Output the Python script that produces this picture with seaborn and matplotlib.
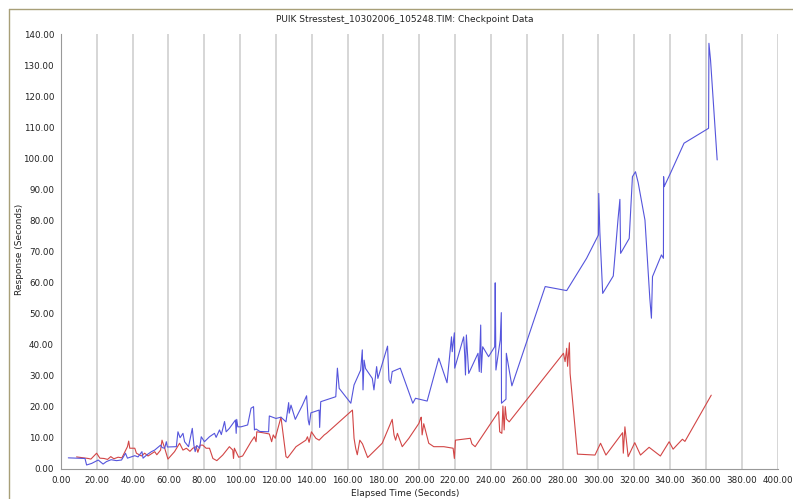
import matplotlib
matplotlib.use("Agg")
import matplotlib.pyplot as plt
from matplotlib.lines import Line2D
import pandas as pd
import seaborn as sns

# Checkpoint data
blue_x = [4.1, 13.4, 14.3, 17.1, 20.8, 23.5, 25.4, 28, 31, 33.8, 36, 37.1, 41.2, 43, 45.2, 45.8, 48, 50.5,
          52.3, 55.6, 56.5, 57.9, 58.8, 59.4, 64.4, 65.3, 66.5, 68.1, 69, 71.2, 73.3, 74.2, 74.9, 75.8, 77.4,
          78.3, 80.1, 82.9, 85.7, 86.6, 88.5, 89.5, 91.3, 92.2, 94, 97.4, 97.8, 98.1, 98.7, 100.5, 104.2,
          106.1, 107.5, 108, 108.9, 111, 115.9, 116.3, 120, 122.8, 125.6, 127.1, 127.4, 128.4, 130.8, 134.8,
          137.1, 138, 138.6, 139.5, 144.1, 144.4, 145, 153.4, 154.3, 155.3, 159, 161.8, 163.6, 167.3, 168.2,
          168.6, 169.2, 170, 173.8, 174.7, 176.2, 176.9, 182.3, 183.1, 184, 184.9, 189.4, 196.4, 197.9, 204.4,
          210.9, 215.5, 218, 218.4, 219.6, 219.8, 224.8, 225.4, 225.8, 226.3, 227.6, 232.8, 233.5, 234.3,
          234.6, 235.4, 238.7, 242.1, 242.4, 242.8, 245.2, 245.8, 245.9, 248.4, 248.6, 251.7, 270.3, 282.3,
          293.4, 300, 300.2, 300.8, 302.4, 308.3, 311, 312, 312.4, 317.2, 319, 320.7, 322.2, 326, 328.7,
          329.6, 330.2, 335.2, 336.3, 336.4, 336.7, 340.2, 347.8, 361.5, 361.7, 362.6, 366.3]
blue_y = [3.5, 3.3, 1.2, 1.7, 2.8, 1.5, 2.3, 2.9, 2.6, 2.8, 5, 3.4, 4.2, 3.8, 5.5, 3.4, 4.5, 5.5,
          6, 7.6, 6.8, 6.6, 8.7, 7, 7.1, 11.9, 10, 11.4, 8.7, 7.1, 13, 7.6, 5.5, 7.5, 6.6,
          10.3, 8.7, 10.3, 11.4, 10.1, 12.5, 11, 15.2, 11.9, 13, 15.7, 11.4, 15.9, 13.5, 13.5, 14.1,
          19.5, 20, 12.5, 12.8, 12, 11.9, 17, 16.2, 16.6, 15.1, 21.3, 17.9, 20.5, 15.9, 20.5,
          23.5, 15.7, 14.1, 18, 18.9, 13.3, 21.6, 23.2, 32.4, 25.9, 23.2, 21.1, 27, 31.8, 38.3,
          25.4, 35, 32.3, 29.1, 25.4, 32.9, 29.1, 39.5, 28.6, 27.5, 31.3, 32.4, 21.1, 22.7, 21.8,
          35.6, 27.7, 42.5, 37.7, 43.8, 32.4, 42.5, 36.3, 30.2, 43.1, 30.7, 37.2, 31.3, 46.3,
          31, 39.3, 36.1, 39.3, 59.9, 31.8, 41.5, 50.3, 21.1, 22.4, 37.2, 26.7, 58.7, 57.4,
          67.8, 75.3, 88.7, 76.4, 56.5, 62.1, 80.7, 86.8, 69.4, 74.2, 94.1, 95.7, 92.2, 80.1, 54.9,
          48.5, 61.9, 68.9, 67.8, 94.1, 90.9, 95.2, 104.9, 109.7, 137.1, 131.7, 99.5]

red_x = [8.7, 15.2, 16.7, 19.9, 21.7, 24, 26, 27.8, 29.5, 31.9, 34, 37.1, 37.8, 38.4, 41.2, 42.1, 44.9,
         46.7, 48.6, 52.3, 53.5, 55.6, 56.4, 57.9, 59.7, 63.4, 66.2, 68.1, 70, 72, 73.6, 75.5, 76.4, 77.7,
         79.2, 81, 82.9, 84.8, 87, 90.3, 94, 95.9, 96.3, 96.8, 99.2, 101.4, 106.1, 108, 108.9, 109.3,
         112.6, 116.3, 117.6, 118.5, 119.6, 122.8, 125.6, 126.5, 131.2, 136.7, 137.6, 138.5, 139.8, 142.3,
         144.1, 147, 148.2, 162.7, 163.6, 164.5, 165.4, 166.8, 168.3, 171.2, 179.3, 184.9, 185.9, 186.8,
         187.8, 190.5, 194.2, 199.8, 200.7, 201.1, 201.6, 202.5, 205.3, 208.1, 213.7, 218.9, 219.6, 220.2,
         228.5, 229.4, 231.2, 244.3, 244.9, 246.1, 246.7, 247.4, 248, 248.7, 250.2, 280.5, 281.4, 282.3,
         282.8, 283.8, 284.2, 288.3, 298.1, 301.2, 304.2, 313.5, 313.9, 314.8, 316.6, 320.3, 323.5, 328.3,
         334.6, 339.5, 341.7, 346.9, 348.3, 363]
red_y = [3.8, 3.3, 3.1, 5, 3.4, 3.3, 3.0, 3.9, 3.2, 3.7, 3.5, 7.1, 8.9, 6.6, 6.6, 5, 4.1,
         5, 4.1, 5.5, 4.5, 6, 9.2, 6.6, 3.1, 5.5, 8.2, 6, 6.6, 5.6, 6.6, 7.1, 5.3, 7.6,
         7.6, 6.6, 6.6, 3.3, 2.6, 4.4, 7.1, 6, 3.3, 6.6, 3.7, 4.1, 8.7, 10.3, 8.7, 11.9,
         11.6, 11.2, 8.7, 10.9, 9.8, 16.6, 3.9, 3.5, 7.1, 9.2, 10.3, 8.5, 11.9, 9.8,
         9.2, 10.9, 11.4, 18.9, 9.8, 6.6, 4.5, 9.2, 8, 3.6, 8.2, 15.9, 10.9, 9.2,
         11.4, 7.1, 9.8, 14.6, 16.2, 16.6, 10.9, 14.5, 8.2, 7.1, 7.1, 6.6, 3.3, 9.2,
         9.8, 8, 7.1, 18.4, 11.9, 11.4, 20.2, 12.5, 20, 16, 15.1, 37.2, 34.5, 38.8,
         33, 40.6, 30.7, 4.7, 4.4, 8.2, 4.4, 11.6, 5, 13.5, 3.9, 8.4, 4.4, 6.9,
         4.1, 8.7, 6.3, 9.5, 8.8, 23.7]

x_ticks = list(range(0, 401, 20))
y_ticks = list(range(0, 141, 10))

blue_df = pd.DataFrame({"t": blue_x, "r": blue_y})
red_df = pd.DataFrame({"t": red_x, "r": red_y})

sns.set_style("white")
plt.rcParams["font.family"] = ["DejaVu Sans"]

fig = plt.figure(figsize=(7.93, 4.99), dpi=100)
ax = fig.add_axes([0.0769, 0.0607, 0.9036, 0.8706])

sns.lineplot(data=red_df, x="t", y="r", sort=False, estimator=None, color="#d24646", lw=0.8, ax=ax)
sns.lineplot(data=blue_df, x="t", y="r", sort=False, estimator=None, color="#5555dc", lw=0.8, ax=ax)

ax.set_xlim(0, 400)
ax.set_ylim(0, 140)
ax.set_xticks(x_ticks)
ax.set_yticks(y_ticks)
ax.set_xticklabels([f"{v:.2f}" for v in x_ticks])
ax.set_yticklabels([f"{v:.2f}" for v in y_ticks])
ax.tick_params(labelsize=6.3, length=3, width=0.6, color="#999999", colors="#222222", pad=2)
ax.tick_params(axis="both", which="both", direction="out")
ax.xaxis.grid(True, color="#cccccc", lw=1.1)
ax.yaxis.grid(False)
ax.set_axisbelow(True)
for side in ["top", "right"]:
    ax.spines[side].set_visible(False)
for side in ["left", "bottom"]:
    ax.spines[side].set_color("#999999")
    ax.spines[side].set_linewidth(0.8)
ax.set_xlabel("")
ax.set_ylabel("")

fig.text(0.51, 0.96, "PUIK Stresstest_10302006_105248.TIM: Checkpoint Data",
         ha="center", va="center", fontsize=6.5, color="#222222")
fig.text(0.511, 0.012, "Elapsed Time (Seconds)", ha="center", va="center", fontsize=6.5, color="#222222")
fig.text(0.025, 0.5, "Response (Seconds)", ha="center", va="center", rotation=90,
         fontsize=6.5, color="#222222")

# outer frame (top and left edges)
fig.add_artist(Line2D([9 / 793, 1], [1 - 9 / 499, 1 - 9 / 499], color="#a89f78", lw=1.0))
fig.add_artist(Line2D([9 / 793, 9 / 793], [0, 1 - 9 / 499], color="#a89f78", lw=1.0))

fig.savefig("out.png", dpi=100)
